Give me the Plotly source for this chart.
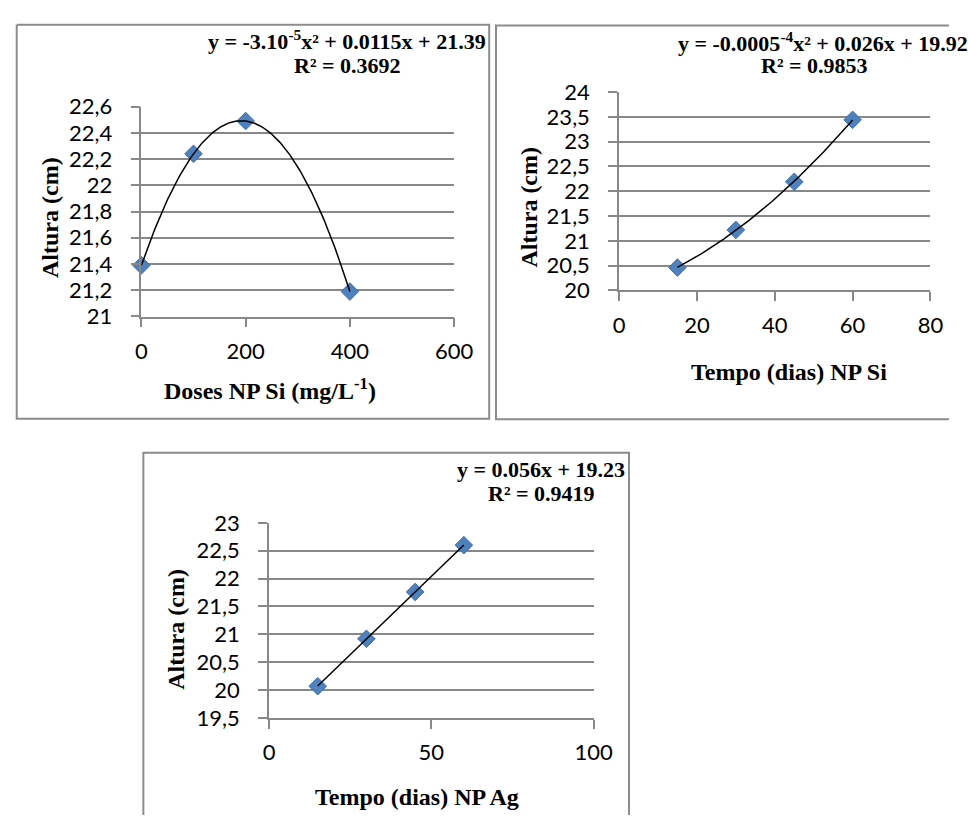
import numpy as np
import plotly.graph_objects as go

# ---- data -------------------------------------------------------------
dose_si = [0, 100, 200, 400]
altura_dose_si = [21.39, 22.24, 22.49, 21.19]

tempo_si = [15, 30, 45, 60]
altura_tempo_si = [20.46, 21.22, 22.19, 23.44]

tempo_ag = [15, 30, 45, 60]
altura_tempo_ag = [20.07, 20.92, 21.76, 22.60]

eq_dose_si = ["y = -3.10<sup>-5</sup>x² + 0.0115x + 21.39", "R² = 0.3692"]
eq_tempo_si = ["y = -0.0005<sup>-4</sup>x² + 0.026x + 19.92", "R² = 0.9853"]
eq_tempo_ag = ["y = 0.056x + 19.23", "R² = 0.9419"]

# ---- canvas helpers ---------------------------------------------------
W, H = 968, 828


def px(x):
    return x / W


def py(y):
    return 1 - y / H


GRID = "#888888"
BLUE = "#4F81BD"
TICK_FONT = dict(family="Lato", size=22, color="#000000")
SERIF = "Liberation Serif"

fig = go.Figure()

panels = [
    dict(x=dose_si, y=altura_dose_si, order=2, xr=[0, 600], xd=200, yr=[21, 22.6], yd=0.2,
         xdom=[139, 460], ydom=[95.7, 312.7], n=""),
    dict(x=tempo_si, y=altura_tempo_si, order=2, xr=[0, 80], xd=20, yr=[20, 24], yd=0.5,
         xdom=[629.3, 949], ydom=[80.7, 285.7], n="2"),
    dict(x=tempo_ag, y=altura_tempo_ag, order=1, xr=[0, 100], xd=50, yr=[19.5, 23], yd=0.5,
         xdom=[270, 603.3], ydom=[526, 727.7], n="3"),
]

for p in panels:
    xa, ya = "x" + p["n"], "y" + p["n"]
    fig.add_trace(go.Scatter(
        x=p["x"], y=p["y"], mode="markers", xaxis=xa, yaxis=ya, cliponaxis=False,
        marker=dict(symbol="diamond", size=13.5, color=BLUE, line=dict(color="#3E6EA8", width=1)),
        showlegend=False, hoverinfo="x+y",
    ))
    # polynomial trend line fitted to the points
    coef = np.polyfit(p["x"], p["y"], p["order"])
    xs = np.linspace(min(p["x"]), max(p["x"]), 200)
    fig.add_trace(go.Scatter(
        x=xs, y=np.polyval(coef, xs), mode="lines", xaxis=xa, yaxis=ya, cliponaxis=False,
        line=dict(color="#000000", width=1.5), showlegend=False, hoverinfo="skip",
    ))
    xkey = "xaxis" + p["n"]
    ykey = "yaxis" + p["n"]
    fig.update_layout(**{
        xkey: dict(
            domain=[px(p["xdom"][0]), px(p["xdom"][1])], range=p["xr"], dtick=p["xd"], tick0=0,
            anchor=ya, showgrid=False, zeroline=False, showline=True, linecolor=GRID, linewidth=1.5,
            ticks="outside", ticklen=9, tickwidth=1.5, tickcolor=GRID,
            tickfont=TICK_FONT, ticklabelstandoff=5, fixedrange=True,
        ),
        ykey: dict(
            domain=[py(p["ydom"][1]), py(p["ydom"][0])], range=p["yr"], dtick=p["yd"], tick0=0,
            anchor=xa, showgrid=True, gridcolor=GRID, gridwidth=1.5, zeroline=False,
            showline=True, linecolor=GRID, linewidth=1.5,
            ticks="outside", ticklen=9, tickwidth=1.5, tickcolor=GRID,
            tickfont=TICK_FONT, ticklabelstandoff=14, fixedrange=True,
        ),
    })

# ---- frames around each chart (kept inside the canvas) -------------------
def frame(points):
    path = "M " + " L ".join(f"{px(x):.5f},{py(y):.5f}" for x, y in points)
    fig.add_shape(type="path", xref="paper", yref="paper", path=path,
                  line=dict(color="#8C8C8C", width=2), layer="below")


frame([(11, 11), (496, 11), (496, 418.5), (11, 418.5), (11, 11)])
frame([(W, 12), (503, 12), (503, 419), (W, 419)])
frame([(141, H), (141, 453.5), (639.5, 453.5), (639.5, H)])

# ---- text -------------------------------------------------------------
def label(text, x, y, size=22, angle=0, anchor="center"):
    fig.add_annotation(text="<b>" + text + "</b>", x=px(x), y=py(y), xref="paper", yref="paper",
                       showarrow=False, textangle=angle, xanchor=anchor, yanchor="middle",
                       font=dict(family=SERIF, size=size, color="#000000"))


label(eq_dose_si[0], 350, 27)
label(eq_dose_si[1], 351, 53)
label(eq_tempo_si[0], 688, 29, anchor="left")
label(eq_tempo_si[1], 830, 53)
label(eq_tempo_ag[0], 549, 471)
label(eq_tempo_ag[1], 550, 496)

label("Altura (cm)", 45, 210, size=24, angle=-90)
label("Altura (cm)", 537, 200, size=24, angle=-90)
label("Altura (cm)", 175, 636, size=24, angle=-90)

label("Doses NP Si (mg/L<sup>-1</sup>)", 271, 388, size=24)
label("Tempo (dias) NP Si", 804, 370, size=24)
label("Tempo (dias) NP Ag", 422, 809, size=24)

fig.update_layout(
    width=W, height=H, margin=dict(l=0, r=0, t=0, b=0),
    paper_bgcolor="#FFFFFF", plot_bgcolor="#FFFFFF",
    separators=", ", showlegend=False,
)

fig.write_html("out.html")
